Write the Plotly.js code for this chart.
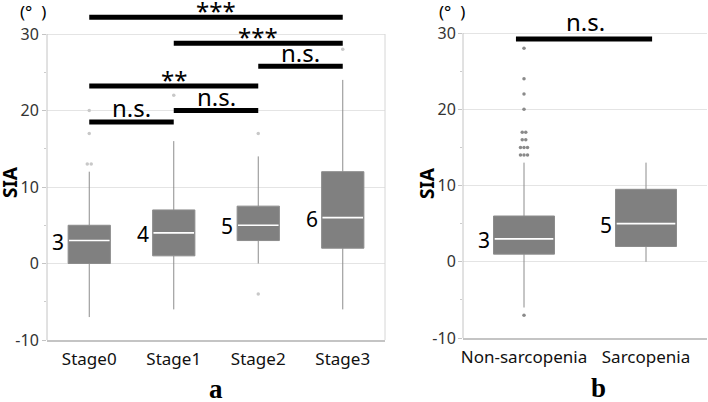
<!DOCTYPE html>
<html>
<head>
<meta charset="utf-8">
<script src="https://cdn.plot.ly/plotly-3.0.1.min.js"></script>
<style>html,body{margin:0;padding:0;background:#fff;}#chart{width:708px;height:402px;}</style>
</head>
<body>
<div id="chart"></div>
<script>
// ---------- Panel a data ----------
const stages = ['Stage0', 'Stage1', 'Stage2', 'Stage3'];
const q1A = [0, 1, 3, 2];
const medA = [3, 4, 5, 6];
const q3A = [5, 7, 7.5, 12];
const loA = [-7, -6, 0, -6];
const hiA = [12, 16, 14, 24];
const outAGroup = [0, 0, 0, 1, 2, 2, 3];
const outAVal = [13, 17, 20, 22, 17, -4, 28];
const outACount = [2, 1, 1, 1, 1, 1, 1];
const cmpAFrom = [0, 1, 2, 0, 1, 0];
const cmpATo = [3, 3, 3, 2, 2, 1];
const cmpAY = [32.2, 28.8, 25.8, 23.2, 20.0, 18.5];
const cmpALabel = ['***', '***', 'n.s.', '**', 'n.s.', 'n.s.'];

// ---------- Panel b data ----------
const groups = ['Non-sarcopenia', 'Sarcopenia'];
const q1B = [1, 2];
const medB = [3, 5];
const q3B = [6, 9.5];
const loB = [-6, 0];
const hiB = [13, 13];
const outBGroup = [0, 0, 0, 0, 0, 0, 0, 0, 0];
const outBVal = [28, 24, 22, 20, 17, 16, 15, 14, -7];
const outBCount = [1, 1, 1, 1, 2, 2, 3, 3, 1];
const cmpBFrom = [0];
const cmpBTo = [1];
const cmpBY = [29.2];
const cmpBLabel = ['n.s.'];

// ---------- Axis ticks ----------
const yTicks = [-10, 0, 10, 20, 30];
const yTickText = ['-10', '0', '10', '20', '30'];
const yMinor = [-5, 5, 15, 25];

const W = 708, H = 402;
const FONT = 'Noto Sans, Open Sans, sans-serif';
const BOXW = 0.5;

function expandOutliers(g, v, n, dx) {
  const xs = [], ys = [];
  for (let i = 0; i < g.length; i++) {
    for (let k = 0; k < n[i]; k++) {
      xs.push(g[i] + (k - (n[i] - 1) / 2) * dx);
      ys.push(v[i]);
    }
  }
  return {xs, ys};
}
function medianLines(med) {
  const xs = [], ys = [];
  med.forEach((m, i) => { xs.push(i - BOXW / 2 + 0.01, i + BOXW / 2 - 0.01, null); ys.push(m, m, null); });
  return {xs, ys};
}

const oA = expandOutliers(outAGroup, outAVal, outACount, 4 / 85);
const oB = expandOutliers(outBGroup, outBVal, outBCount, 3.5 / 121);
const mA = medianLines(medA);
const mB = medianLines(medB);

const boxStyle = {type: 'box', boxpoints: false, width: BOXW, whiskerwidth: 0,
  fillcolor: '#808080', line: {color: '#8c8c8c', width: 1}, hoverinfo: 'skip', showlegend: false};

const traces = [
  Object.assign({}, boxStyle, {x: stages.map((s, i) => i), q1: q1A, median: medA, q3: q3A,
    lowerfence: loA, upperfence: hiA, xaxis: 'x', yaxis: 'y'}),
  {type: 'scatter', mode: 'lines', x: mA.xs, y: mA.ys, line: {color: '#ffffff', width: 1.6},
    xaxis: 'x', yaxis: 'y', showlegend: false, hoverinfo: 'skip'},
  {type: 'scatter', mode: 'markers', x: oA.xs, y: oA.ys, marker: {color: '#c8c8c8', size: 3.5},
    xaxis: 'x', yaxis: 'y', showlegend: false, hoverinfo: 'skip'},
  Object.assign({}, boxStyle, {x: groups.map((s, i) => i), q1: q1B, median: medB, q3: q3B,
    lowerfence: loB, upperfence: hiB, xaxis: 'x2', yaxis: 'y2'}),
  {type: 'scatter', mode: 'lines', x: mB.xs, y: mB.ys, line: {color: '#ffffff', width: 1.6},
    xaxis: 'x2', yaxis: 'y2', showlegend: false, hoverinfo: 'skip'},
  {type: 'scatter', mode: 'markers', x: oB.xs, y: oB.ys, marker: {color: '#8a8a8a', size: 3.5},
    xaxis: 'x2', yaxis: 'y2', showlegend: false, hoverinfo: 'skip'}
];

const shapes = [];
const annotations = [];

// significance bars
function addCmp(from, to, ys, labels, xr, yr, ext, nsShift) {
  for (let i = 0; i < from.length; i++) {
    shapes.push({type: 'line', xref: xr, yref: yr, x0: from[i] - ext[0], x1: to[i] + ext[1],
      y0: ys[i], y1: ys[i], line: {color: '#000', width: 5}});
    const isStar = labels[i].indexOf('*') >= 0;
    annotations.push({xref: xr, yref: yr, x: (from[i] + to[i]) / 2, y: ys[i], text: labels[i],
      showarrow: false, yanchor: 'middle', yshift: isStar ? 7 : nsShift,
      font: {family: FONT, size: 24, color: '#000'}});
  }
}
addCmp(cmpAFrom, cmpATo, cmpAY, cmpALabel, 'x', 'y', [0, 0], 14);
addCmp(cmpBFrom, cmpBTo, cmpBY, cmpBLabel, 'x2', 'y2', [0.066, 0.05], 18);

// median labels
function addMed(med, xr, yr) {
  med.forEach((m, i) => annotations.push({xref: xr, yref: yr, x: i - BOXW / 2, y: m, text: String(m),
    showarrow: false, xanchor: 'right', yanchor: 'middle', xshift: -2, yshift: -1,
    font: {family: FONT, size: 21, color: '#000'}}));
}
addMed(medA, 'x', 'y');
addMed(medB, 'x2', 'y2');

// frame / axis lines
shapes.push({type: 'line', xref: 'x domain', yref: 'y', x0: 0, x1: 0, y0: -10, y1: 30, line: {color: '#c4c4c4', width: 1}});
shapes.push({type: 'line', xref: 'x domain', yref: 'y', x0: 1, x1: 1, y0: -10, y1: 30, line: {color: '#d6d6d6', width: 1}});
shapes.push({type: 'line', xref: 'x2 domain', yref: 'y2', x0: 0, x1: 0, y0: -10, y1: 30, line: {color: '#c4c4c4', width: 1}});

// text labels
function px(x) { return x / W; }
function py(y) { return 1 - y / H; }
[[33, 11], [452, 11]].forEach(p => annotations.push({xref: 'paper', yref: 'paper', x: px(p[0]), y: py(p[1]),
  text: '(°\u00a0\u00a0)', showarrow: false, xanchor: 'center', yanchor: 'middle',
  font: {family: FONT, size: 17, color: '#000'}}));
[[10, 182], [427, 183]].forEach(p => annotations.push({xref: 'paper', yref: 'paper', x: px(p[0]), y: py(p[1]),
  text: '<b>SIA</b>', textangle: -90, showarrow: false, xanchor: 'center', yanchor: 'middle',
  font: {family: FONT, size: 19, color: '#000'}}));
[['a', 216, 389], ['b', 598, 388]].forEach(p => annotations.push({xref: 'paper', yref: 'paper', x: px(p[1]), y: py(p[2]),
  text: '<b>' + p[0] + '</b>', showarrow: false, xanchor: 'center', yanchor: 'middle',
  font: {family: 'Liberation Serif, Times New Roman, serif', size: 27, color: '#000'}}));

function yAxis(domBottomPx, topVal, anchor, standoff) {
  return {domain: [1 - domBottomPx / H, 1], range: [-10, topVal], anchor: anchor,
    tickmode: 'array', tickvals: yTicks, ticktext: yTickText, ticks: 'outside', ticklen: 4, tickcolor: '#c4c4c4',
    showgrid: true, gridcolor: '#e4e4e4', gridwidth: 1, zeroline: false, showline: false,
    tickfont: {family: FONT, size: 16, color: '#333'}, ticklabelstandoff: standoff,
    minor: {tickmode: 'array', tickvals: yMinor, ticks: 'outside', ticklen: 2, tickcolor: '#cccccc', showgrid: false},
    fixedrange: true};
}
function xAxis(d0, d1, labels, anchor) {
  return {domain: [d0 / W, d1 / W], range: [-0.5, labels.length - 0.5], anchor: anchor,
    tickmode: 'array', tickvals: labels.map((s, i) => i), ticktext: labels, ticks: '',
    showgrid: false, zeroline: false, showline: true, linecolor: '#c4c4c4', linewidth: 1.5,
    tickfont: {family: FONT, size: 17, color: '#111'}, ticklabelstandoff: 3, fixedrange: true};
}

const layout = {
  width: W, height: H, margin: {l: 0, r: 0, t: 0, b: 0},
  paper_bgcolor: '#fff', plot_bgcolor: '#fff', showlegend: false,
  xaxis: xAxis(47, 385, stages, 'y'),
  yaxis: yAxis(340, 30 + 34 / 7.65, 'x', 0),
  xaxis2: xAxis(463, 707, groups, 'y2'),
  yaxis2: yAxis(338, 30 + 33 / 7.625, 'x2', -1),
  shapes: shapes, annotations: annotations
};

Plotly.newPlot('chart', traces, layout, {displayModeBar: false, staticPlot: true});
</script>
</body>
</html>
